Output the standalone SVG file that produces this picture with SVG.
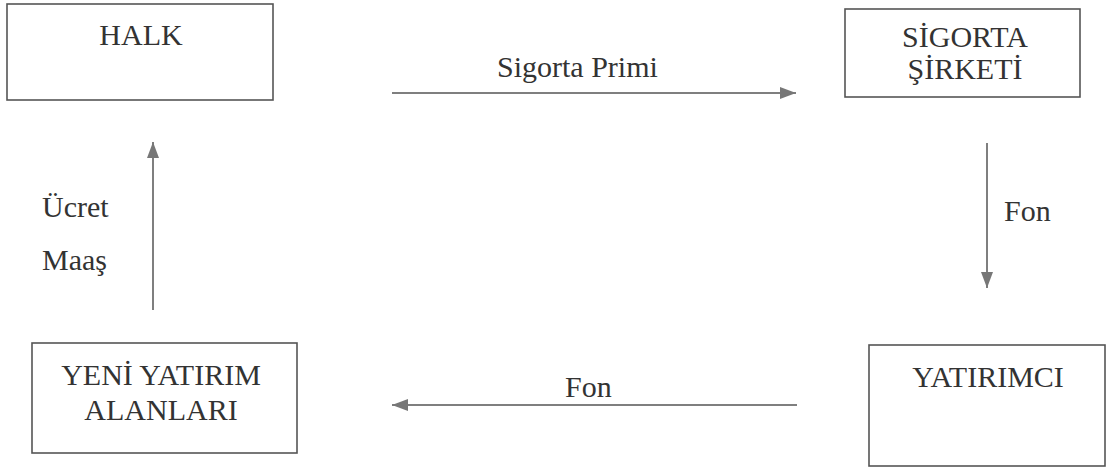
<svg xmlns="http://www.w3.org/2000/svg" width="1107" height="468" viewBox="0 0 1107 468">
<style>
.box{fill:#fff;stroke:#555;stroke-width:1.6}
.c{text-anchor:middle}
.ln{stroke:#555;stroke-width:1.5;fill:none}
</style>
<defs>
<marker id="ah" viewBox="0 0 16 12" refX="16" refY="6" markerWidth="16" markerHeight="12" markerUnits="userSpaceOnUse" orient="auto">
<path d="M0,0 L16,6 L0,12 Z" fill="#777"/>
</marker>
</defs>
<rect width="1107" height="468" fill="#fff"/>
<g font-family="Liberation Serif, DejaVu Serif, serif" font-size="30" fill="#333">
<g id="connectors">
<line class="ln" x1="392" y1="93" x2="796" y2="93" marker-end="url(#ah)"/>
<text x="497" y="77">Sigorta Primi</text>
<line class="ln" x1="987" y1="143" x2="987" y2="288" marker-end="url(#ah)"/>
<text x="1004" y="221">Fon</text>
<line class="ln" x1="797" y1="405" x2="392" y2="405" marker-end="url(#ah)"/>
<text x="565" y="397">Fon</text>
<line class="ln" x1="153" y1="310" x2="153" y2="142" marker-end="url(#ah)"/>
<text x="42" y="217">Ücret</text>
<text x="42" y="270">Maaş</text>
</g>
<g id="halk">
<rect class="box" x="7" y="4" width="266" height="96"/>
<text class="c" x="141" y="45">HALK</text>
</g>
<g id="sigorta">
<rect class="box" x="845" y="9" width="235" height="88"/>
<text class="c" x="965" y="47">SİGORTA</text>
<text class="c" x="965" y="79">ŞİRKETİ</text>
</g>
<g id="yeni">
<rect class="box" x="32" y="343" width="265" height="110"/>
<text class="c" x="161" y="385">YENİ YATIRIM</text>
<text class="c" x="161" y="420">ALANLARI</text>
</g>
<g id="yatirimci">
<rect class="box" x="869" y="345" width="236" height="121"/>
<text class="c" x="988" y="387">YATIRIMCI</text>
</g>
</g>
</svg>
